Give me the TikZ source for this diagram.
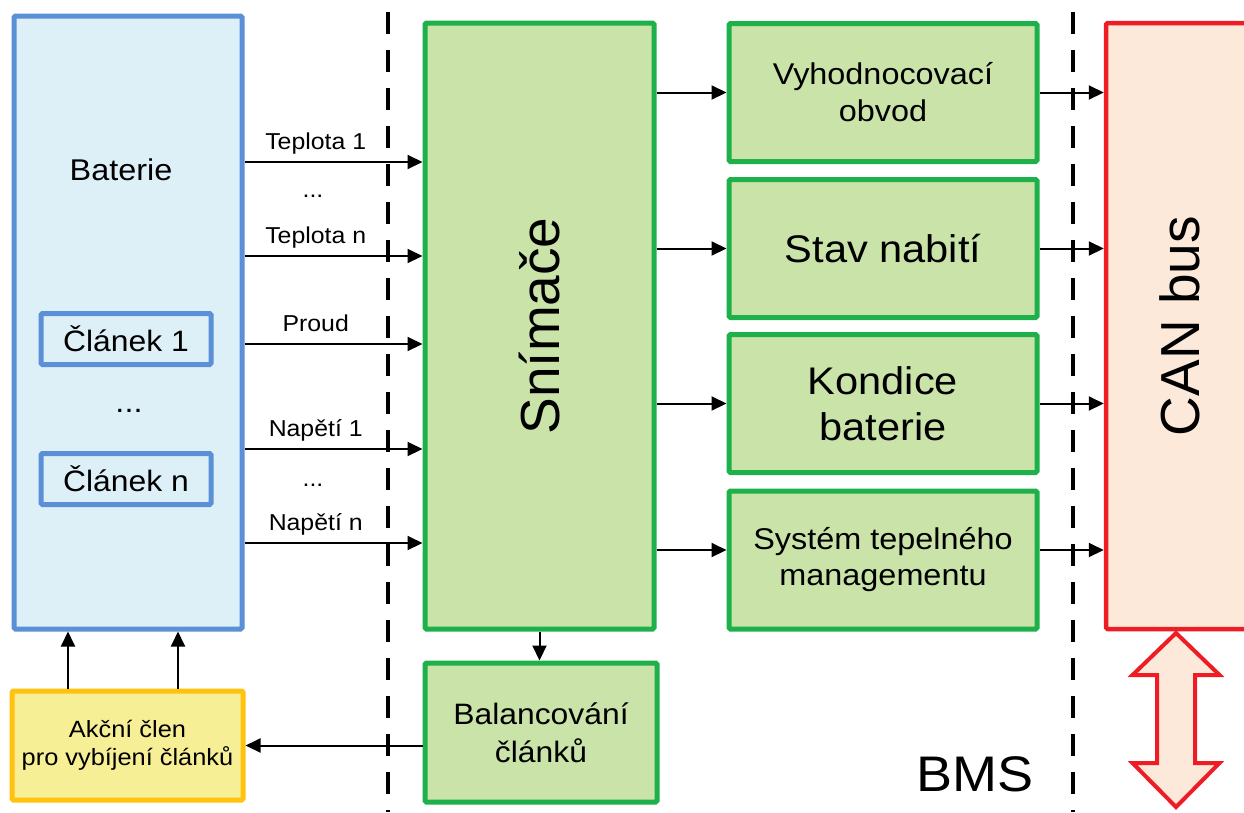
\documentclass[tikz,border=0pt]{standalone}
\usepackage{fontspec}
\setmainfont{Liberation Sans}[FakeStretch=1.08]
\newfontfamily\upright{Liberation Sans}
\usetikzlibrary{arrows.meta, calc}

\definecolor{batline}{HTML}{5B8FD6}
\definecolor{batfill}{HTML}{DDF0F8}
\definecolor{bmsline}{HTML}{1EB04A}
\definecolor{bmsfill}{HTML}{C9E3A9}
\definecolor{akcline}{HTML}{FFC20E}
\definecolor{akcfill}{HTML}{F7EF96}
\definecolor{canline}{HTML}{EE1C25}
\definecolor{canfill}{HTML}{FDE9DA}

\newcommand{\fs}[2]{\fontsize{#1}{#2}\selectfont}

\begin{document}
\begin{tikzpicture}[
    x=1pt, y=-1pt,
    box/.style={draw, rectangle, rounded corners=1.5pt, inner sep=0pt, align=center, line width=5pt},
    batbox/.style={box, draw=batline, fill=batfill},
    cellbox/.style={box, draw=batline, fill=batfill, minimum width=170pt, minimum height=51pt, font=\fs{29.5}{36}},
    bmsbox/.style={box, draw=bmsline, fill=bmsfill},
    funcbox/.style={bmsbox, minimum width=308pt, minimum height=138pt},
    akcbox/.style={box, draw=akcline, fill=akcfill, font=\fs{23.5}{28.5}},
    canbox/.style={box, line width=4.5pt, draw=canline, fill=canfill},
    sigarrow/.style={line width=2pt, -{Triangle[length=15pt, width=14pt]}},
    siglabel/.style={font=\fs{23}{26}, inner sep=0pt, text depth=0pt},
    sepline/.style={line width=4pt, dash pattern=on 22pt off 16pt}
]
\useasboundingbox (0,0) rectangle (1244,812);

% battery side
\node[batbox, minimum width=228pt, minimum height=613pt] (bat) at (128,322.5) {};
\node[font=\fs{30}{36}, inner sep=0pt] (battxt) at (121,170) {Baterie};
\node[cellbox] (cell1) at (126,339) {Článek 1};
\node[font=\fs{30}{36}, inner sep=0pt, text depth=0pt] (celldots) at (129,411) {...};
\node[cellbox] (celln) at (126,479) {Článek n};
\node[akcbox, minimum width=231pt, minimum height=109pt] (akc) at (127.5,745.5) {Akční člen\\pro vybíjení článků};

% BMS blocks (rotated: north = left side, south = right side)
\node[bmsbox, minimum width=606pt, minimum height=229pt, font=\upright\fs{55}{60}, rotate=90] (snim) at (539.5,326) {Snímače};
\node[bmsbox, minimum width=232pt, minimum height=139pt, font=\fs{29.5}{38}] (bal) at (541,732.5) {Balancování\\článků};
\node[funcbox, font=\fs{30}{37}] (vyh) at (883,92.5) {Vyhodnocovací\\obvod};
\node[funcbox, font=\fs{38.5}{46}] (soc) at (883,248.5) {Stav nabití};
\node[funcbox, font=\fs{38.5}{46}] (soh) at (883,403.5) {Kondice\\baterie};
\node[funcbox, font=\fs{30}{36}] (tms) at (883,560) {Systém tepelného\\managementu};
\node[canbox, minimum width=606pt, minimum height=148pt, font=\upright\fs{55}{60}, rotate=90] (can) at (1180,326) {CAN bus};
\node[font=\fs{50}{56}, inner sep=0pt] (bms) at (975,774.5) {BMS};

% dashed borders of the BMS
\draw[sepline] (388,12) -- (388,812);
\draw[sepline] (1073,12) -- (1073,812);

% measured signals
\foreach \y/\txt/\nm in {162/Teplota 1/t1, 256/Teplota n/tn, 344/Proud/pr, 449/Napětí 1/u1, 543/Napětí n/un}
    \draw[sigarrow] (bat.east |- 0,\y) -- node[siglabel, above=12pt, pos=0.4] (lbl\nm) {\txt} (snim.north |- 0,\y);
\node[siglabel] (dotsT) at (313,196) {...};
\node[siglabel] (dotsU) at (313,485) {...};

% sensors to functions, functions to CAN
\draw[sigarrow] (snim.south |- vyh.west) -- (vyh.west);
\draw[sigarrow] (snim.south |- soc.west) -- (soc.west);
\draw[sigarrow] (snim.south |- soh.west) -- (soh.west);
\draw[sigarrow] (snim.south |- 0,550) -- ([yshift=10pt]tms.west);
\draw[sigarrow] (vyh.east) -- (can.north |- vyh.east);
\draw[sigarrow] (soc.east) -- (can.north |- soc.east);
\draw[sigarrow] (soh.east) -- (can.north |- soh.east);
\draw[sigarrow] ([yshift=10pt]tms.east) -- (can.north |- 0,550);

% balancing loop
\draw[sigarrow] (snim.west) -- (snim.west |- bal.north);
\draw[sigarrow] (bal.west |- akc.east) -- (akc.east);
\draw[sigarrow] ([xshift=-59.5pt]akc.north) -- ([xshift=-59.5pt]akc.north |- bat.south);
\draw[sigarrow] ([xshift=50.5pt]akc.north) -- ([xshift=50.5pt]akc.north |- bat.south);

% CAN bus in/out
\draw[line width=4pt, draw=canline, fill=canfill] (1176,633) -- ++(43.5,42) -- ++(-24.5,0) -- ++(0,88)
    -- ++(24.5,0) -- (1176,807) -- ++(-43.5,-44) -- ++(24.5,0) -- ++(0,-88) -- ++(-24.5,0) -- cycle;

\end{tikzpicture}
\end{document}
